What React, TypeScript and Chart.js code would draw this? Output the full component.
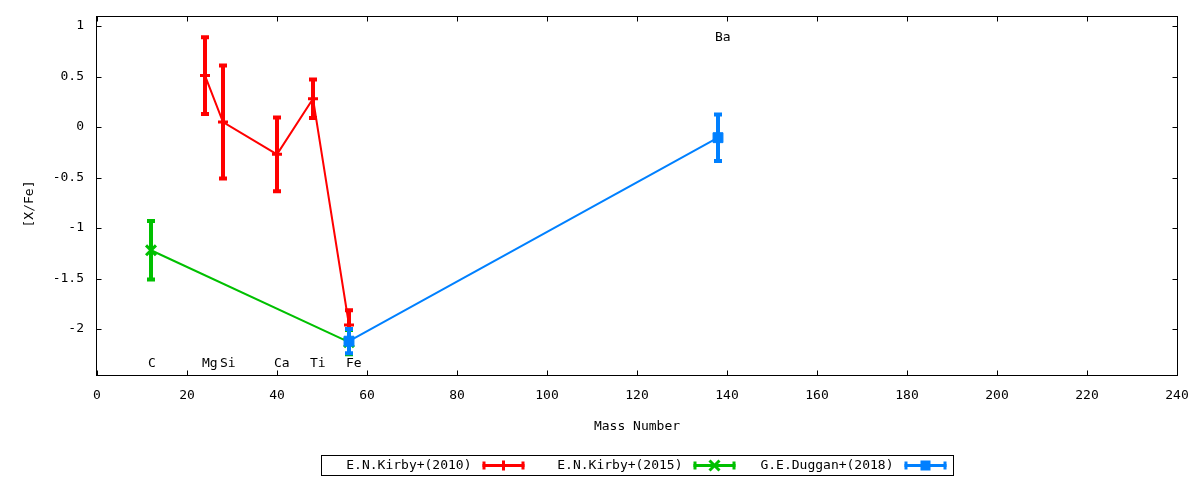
import React, { useEffect, useRef } from 'react';
import { Chart, registerables } from 'chart.js';

Chart.register(...registerables);

// ---- data ----
const seriesNames = ['E.N.Kirby+(2010)', 'E.N.Kirby+(2015)', 'G.E.Duggan+(2018)'];
const seriesColors = ['#ff0000', '#00c000', '#0080ff'];

const kirby2010Mass = [24, 28, 40, 48, 56];
const kirby2010Value = [0.51, 0.05, -0.27, 0.28, -1.96];
const kirby2010Error = [0.38, 0.56, 0.365, 0.19, 0.145];

const kirby2015Mass = [12, 56];
const kirby2015Value = [-1.22, -2.13];
const kirby2015Error = [0.29, 0.12];

const duggan2018Mass = [56, 138];
const duggan2018Value = [-2.12, -0.105];
const duggan2018Error = [0.12, 0.23];

const elementNames = ['C', 'Mg', 'Si', 'Ca', 'Ti', 'Fe', 'Ba'];
const elementMass = [12, 24, 28, 40, 48, 56, 138];
const elementLabelValue = [-2.34, -2.34, -2.34, -2.34, -2.34, -2.34, 0.89];

const xTickValues = [0, 20, 40, 60, 80, 100, 120, 140, 160, 180, 200, 220, 240];
const yTickValues = [-2, -1.5, -1, -0.5, 0, 0.5, 1];

const FONT = '"DejaVu Sans Mono", "Liberation Mono", monospace';
const FONT_SIZE = 13;

const toPoints = (xs: number[], ys: number[]) => xs.map((x, i) => ({ x, y: ys[i] }));
const seriesMass = [kirby2010Mass, kirby2015Mass, duggan2018Mass];
const seriesValue = [kirby2010Value, kirby2015Value, duggan2018Value];
const seriesError = [kirby2010Error, kirby2015Error, duggan2018Error];
const seriesPointStyle = ['cross', 'crossRot', 'rect'];

function drawMarker(ctx: CanvasRenderingContext2D, style: string, x: number, y: number, color: string) {
  ctx.save();
  ctx.strokeStyle = color;
  ctx.fillStyle = color;
  ctx.lineWidth = 3;
  if (style === 'cross') {
    ctx.beginPath();
    ctx.moveTo(x - 5, y);
    ctx.lineTo(x + 5, y);
    ctx.moveTo(x, y - 5);
    ctx.lineTo(x, y + 5);
    ctx.stroke();
  } else if (style === 'crossRot') {
    ctx.beginPath();
    ctx.moveTo(x - 5, y - 5);
    ctx.lineTo(x + 5, y + 5);
    ctx.moveTo(x + 5, y - 5);
    ctx.lineTo(x - 5, y + 5);
    ctx.stroke();
  } else {
    ctx.fillRect(x - 5, y - 5, 10, 10);
  }
  ctx.restore();
}

const frameAndTicks = {
  id: 'frameAndTicks',
  beforeDatasetsDraw(chart: any) {
    const { ctx, chartArea: a, scales } = chart;
    ctx.save();
    ctx.strokeStyle = '#000';
    ctx.lineWidth = 1;
    const L = Math.round(a.left) - 0.5;
    const R = Math.round(a.right) + 0.5;
    const T = Math.round(a.top) - 0.5;
    const B = Math.round(a.bottom) + 0.5;
    ctx.strokeRect(L, T, R - L, B - T);
    const tl = 5;
    ctx.beginPath();
    xTickValues.forEach((v) => {
      const px = Math.round(scales.x.getPixelForValue(v)) + 0.5;
      ctx.moveTo(px, B);
      ctx.lineTo(px, B - tl);
      ctx.moveTo(px, T);
      ctx.lineTo(px, T + tl);
    });
    yTickValues.forEach((v) => {
      const py = Math.round(scales.y.getPixelForValue(v)) + 0.5;
      ctx.moveTo(L, py);
      ctx.lineTo(L + tl, py);
      ctx.moveTo(R, py);
      ctx.lineTo(R - tl, py);
    });
    ctx.stroke();

    // element labels
    ctx.fillStyle = '#000';
    ctx.font = `${FONT_SIZE}px ${FONT}`;
    ctx.textAlign = 'left';
    ctx.textBaseline = 'middle';
    elementNames.forEach((name, i) => {
      const px = scales.x.getPixelForValue(elementMass[i]) - 3;
      const py = scales.y.getPixelForValue(elementLabelValue[i]);
      ctx.fillText(name, px, py);
    });

    // y axis title (gnuplot places it slightly below the centre)
    ctx.save();
    ctx.translate(30, (a.top + a.bottom) / 2 + 8);
    ctx.rotate(-Math.PI / 2);
    ctx.textAlign = 'center';
    ctx.fillText('[X/Fe]', 0, 0);
    ctx.restore();
    ctx.restore();
  },
};

const errorBars = {
  id: 'errorBars',
  afterDatasetDraw(chart: any, args: any) {
    const i = args.index;
    const { ctx, scales } = chart;
    const color = seriesColors[i];
    ctx.save();
    ctx.strokeStyle = color;
    ctx.lineCap = 'butt';
    seriesMass[i].forEach((m, k) => {
      const px = scales.x.getPixelForValue(m);
      const top = scales.y.getPixelForValue(seriesValue[i][k] + seriesError[i][k]);
      const bot = scales.y.getPixelForValue(seriesValue[i][k] - seriesError[i][k]);
      ctx.lineWidth = 4;
      ctx.beginPath();
      ctx.moveTo(px, top);
      ctx.lineTo(px, bot);
      ctx.stroke();
      ctx.lineWidth = 4;
      ctx.beginPath();
      ctx.moveTo(px - 4, top);
      ctx.lineTo(px + 4, top);
      ctx.moveTo(px - 4, bot);
      ctx.lineTo(px + 4, bot);
      ctx.stroke();
    });
    ctx.restore();
  },
};

const boxLegend = {
  id: 'boxLegend',
  afterDraw(chart: any) {
    const { ctx, chartArea: a } = chart;
    const pitch = 211;
    const sampleW = 42;
    const boxW = 632;
    const boxH = 20;
    const cx = (a.left + a.right) / 2;
    const boxL = Math.round(cx - boxW / 2) + 0.5;
    const boxT = 455.5;
    ctx.save();
    ctx.fillStyle = '#fff';
    ctx.fillRect(boxL, boxT, boxW, boxH);
    ctx.strokeStyle = '#000';
    ctx.lineWidth = 1;
    ctx.strokeRect(boxL, boxT, boxW, boxH);
    ctx.font = `${FONT_SIZE}px ${FONT}`;
    ctx.textAlign = 'right';
    ctx.textBaseline = 'middle';
    const cy = boxT + boxH / 2;
    seriesNames.forEach((name, i) => {
      const sL = boxL + 161 + pitch * i;
      ctx.fillStyle = '#000';
      ctx.fillText(name, sL - 11, cy);
      const color = seriesColors[i];
      ctx.strokeStyle = color;
      ctx.lineWidth = 3;
      ctx.beginPath();
      ctx.moveTo(sL, cy);
      ctx.lineTo(sL + sampleW, cy);
      ctx.stroke();
      ctx.lineWidth = 3;
      ctx.beginPath();
      ctx.moveTo(sL + 1.5, cy - 4);
      ctx.lineTo(sL + 1.5, cy + 4);
      ctx.moveTo(sL + sampleW - 1.5, cy - 4);
      ctx.lineTo(sL + sampleW - 1.5, cy + 4);
      ctx.stroke();
      drawMarker(ctx, seriesPointStyle[i], sL + sampleW / 2, cy, color);
    });
    ctx.restore();
  },
};

export default function App() {
  const ref = useRef<HTMLCanvasElement | null>(null);

  useEffect(() => {
    if (!ref.current) return;
    const datasets = seriesNames.map((name, i) => ({
      label: name,
      data: toPoints(seriesMass[i], seriesValue[i]),
      borderColor: seriesColors[i],
      backgroundColor: seriesColors[i],
      borderWidth: 2,
      tension: 0,
      fill: false,
      pointStyle: seriesPointStyle[i] as any,
      pointRadius: i === 0 ? 5 : 7,
      pointHoverRadius: i === 0 ? 5 : 7,
      pointBorderWidth: i === 2 ? 1 : 3,
      pointBorderColor: seriesColors[i],
      pointBackgroundColor: seriesColors[i],
      order: 3 - i,
    }));

    const chart = new Chart(ref.current, {
      type: 'line',
      data: { datasets },
      options: {
        animation: false,
        responsive: false,
        devicePixelRatio: 1,
        events: [],
        layout: { padding: { top: 17, right: 23, left: 0, bottom: 0 } },
        plugins: {
          legend: { display: false },
          tooltip: { enabled: false },
        },
        scales: {
          x: {
            type: 'linear',
            min: 0,
            max: 240,
            grid: { display: false, drawTicks: false },
            border: { display: false },
            afterBuildTicks: (s: any) => {
              s.ticks = xTickValues.map((v) => ({ value: v }));
            },
            afterFit: (s: any) => {
              s.height = 105;
              s.paddingLeft = 0;
              s.paddingRight = 0;
            },
            ticks: {
              color: '#000',
              font: { family: FONT, size: FONT_SIZE },
              padding: 13,
              maxRotation: 0,
              autoSkip: false,
              callback: (v: any) => `${Math.round(Number(v) * 100) / 100}`,
            },
            title: {
              display: true,
              text: 'Mass Number',
              color: '#000',
              font: { family: FONT, size: FONT_SIZE },
              padding: { top: 0, bottom: 46 },
            },
          },
          y: {
            type: 'linear',
            min: -2.455,
            max: 1.09,
            grid: { display: false, drawTicks: false },
            border: { display: false },
            afterBuildTicks: (s: any) => {
              s.ticks = yTickValues.map((v) => ({ value: v }));
            },
            afterFit: (s: any) => {
              s.width = 97;
              s.paddingTop = 0;
              s.paddingBottom = 0;
            },
            ticks: {
              color: '#000',
              font: { family: FONT, size: FONT_SIZE },
              padding: 13,
              autoSkip: false,
              callback: (v: any) => `${Math.round(Number(v) * 100) / 100}`,
            },
            title: { display: false },
          },
        },
      },
      plugins: [frameAndTicks, errorBars, boxLegend],
    });
    return () => chart.destroy();
  }, []);

  return (
    <div style={{ position: 'absolute', left: 0, top: 0, width: 1200, height: 480, background: '#fff' }}>
      <canvas ref={ref} width={1200} height={480} style={{ display: 'block', width: 1200, height: 480 }} />
    </div>
  );
}
